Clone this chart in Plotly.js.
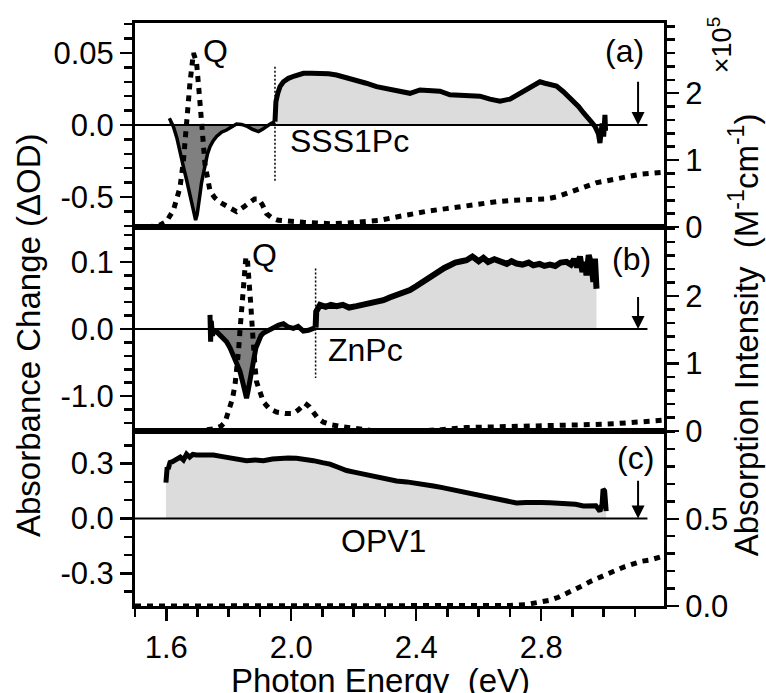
<!DOCTYPE html>
<html>
<head>
<meta charset="utf-8">
<script src="https://cdn.plot.ly/plotly-3.0.1.min.js"></script>
<style>html,body{margin:0;padding:0;background:#fff;}#chart{width:766px;height:693px;}</style>
</head>
<body>
<div id="chart"></div>
<script>
// ---------- Panel (a) SSS1Pc ----------
// Transient absorption change (left axis units; negative side labelled x10)
const aNegE = [1.610,1.623,1.634,1.644,1.655,1.665,1.674,1.681,1.688,1.694,1.699,1.703,1.708,1.713,1.719,1.724,1.732,1.740,1.750,1.761,1.777,1.793,1.809,1.825,1.841,1.857,1.876,1.895,1.908,1.921,1.935,1.948];
const aNegV = [0.0047,-0.0012,-0.009,-0.0197,-0.029,-0.038,-0.047,-0.054,-0.061,-0.066,-0.062,-0.057,-0.048,-0.040,-0.033,-0.027,-0.020,-0.015,-0.011,-0.008,-0.005,-0.0035,-0.0012,0.0007,0.0004,-0.0007,-0.003,-0.0046,-0.003,-0.001,0.001,0.0023];
const aPosE = [1.948,1.951,1.957,1.964,1.975,1.991,2.010,2.039,2.065,2.092,2.120,2.145,2.175,2.209,2.240,2.273,2.305,2.348,2.380,2.412,2.444,2.476,2.508,2.540,2.572,2.604,2.636,2.668,2.700,2.721,2.745,2.764,2.780,2.796,2.812,2.828,2.849,2.871,2.887,2.903,2.920,2.935,2.948,2.961,2.972,2.983,2.988,2.995,3.000,3.004,3.006];
const aPosV = [0.0023,0.0162,0.022,0.0266,0.030,0.0324,0.034,0.0359,0.036,0.0359,0.0355,0.0347,0.033,0.0313,0.029,0.0266,0.025,0.023,0.022,0.0243,0.024,0.0235,0.021,0.0208,0.021,0.020,0.018,0.0165,0.018,0.0208,0.024,0.0266,0.028,0.030,0.029,0.0285,0.027,0.0231,0.020,0.0162,0.0127,0.0085,0.0058,0.002,-0.001,-0.006,-0.0125,0.001,-0.008,0.007,-0.004];
// Absorption spectrum (right axis, x10^5 M^-1 cm^-1)
const aAbsE = [1.500,1.540,1.580,1.600,1.623,1.634,1.644,1.655,1.665,1.676,1.687,1.697,1.706,1.713,1.724,1.740,1.755,1.772,1.800,1.825,1.848,1.868,1.883,1.895,1.908,1.921,1.940,1.959,2.000,2.039,2.080,2.124,2.180,2.231,2.284,2.337,2.390,2.440,2.497,2.550,2.604,2.660,2.710,2.760,2.817,2.850,2.880,2.915,2.945,2.975,3.009,3.045,3.084,3.120,3.160,3.193];
const aAbsV = [0.00,0.00,0.03,0.08,0.25,0.40,0.59,0.99,1.57,2.16,2.60,2.46,1.97,1.47,0.94,0.54,0.44,0.37,0.29,0.23,0.30,0.37,0.42,0.42,0.33,0.20,0.13,0.10,0.08,0.07,0.06,0.05,0.06,0.08,0.10,0.15,0.20,0.24,0.275,0.31,0.35,0.38,0.40,0.41,0.42,0.45,0.50,0.56,0.62,0.66,0.69,0.73,0.76,0.79,0.81,0.82];

// ---------- Panel (b) ZnPc ----------
const bNegE = [1.740,1.742,1.744,1.748,1.752,1.761,1.770,1.780,1.793,1.804,1.815,1.825,1.836,1.845,1.852,1.857,1.862,1.868,1.874,1.879,1.887,1.895,1.903,1.911,1.925,1.943,1.960,1.975,1.990,2.007,2.022,2.039,2.055,2.071,2.078];
const bNegV = [0.021,-0.019,0.012,-0.010,-0.002,-0.004,-0.008,-0.013,-0.019,-0.028,-0.039,-0.050,-0.063,-0.080,-0.093,-0.103,-0.092,-0.078,-0.060,-0.044,-0.028,-0.019,-0.010,-0.006,-0.002,0.001,0.006,0.008,0.003,0.001,0.004,-0.003,-0.002,0.001,0.002];
const bPosE = [2.078,2.080,2.092,2.110,2.127,2.145,2.165,2.185,2.209,2.230,2.250,2.273,2.295,2.315,2.337,2.360,2.380,2.401,2.420,2.440,2.455,2.475,2.490,2.508,2.525,2.545,2.561,2.580,2.600,2.615,2.630,2.650,2.668,2.690,2.705,2.721,2.740,2.760,2.775,2.795,2.810,2.828,2.845,2.862,2.881,2.895,2.905,2.915,2.924,2.932,2.940,2.945,2.952,2.961,2.967,2.972,2.977];
const bPosV = [0.002,0.026,0.036,0.033,0.036,0.034,0.036,0.032,0.034,0.036,0.038,0.041,0.043,0.047,0.050,0.054,0.058,0.064,0.070,0.076,0.080,0.086,0.091,0.095,0.099,0.101,0.1025,0.108,0.101,0.106,0.100,0.104,0.100,0.097,0.101,0.0975,0.096,0.099,0.095,0.097,0.094,0.096,0.094,0.099,0.100,0.096,0.104,0.092,0.108,0.085,0.100,0.080,0.110,0.095,0.070,0.105,0.060];
const bAbsE = [1.500,1.550,1.600,1.650,1.700,1.751,1.775,1.788,1.804,1.812,1.820,1.826,1.831,1.836,1.841,1.845,1.849,1.855,1.860,1.865,1.870,1.875,1.879,1.884,1.889,1.900,1.911,1.930,1.953,1.980,2.007,2.025,2.044,2.058,2.071,2.085,2.103,2.130,2.167,2.210,2.252,2.300,2.350,2.412,2.480,2.561,2.640,2.721,2.800,2.881,2.960,3.041,3.110,3.150,3.193];
const bAbsV = [0.0,0.0,0.0,0.0,0.0,0.03,0.07,0.13,0.33,0.48,0.68,0.92,1.17,1.49,1.81,2.10,2.36,2.58,2.52,2.30,1.91,1.55,1.22,0.95,0.73,0.55,0.43,0.33,0.28,0.26,0.26,0.32,0.41,0.36,0.28,0.19,0.13,0.09,0.06,0.03,0.01,0.0,0.0,0.0,0.02,0.05,0.06,0.065,0.075,0.085,0.095,0.11,0.13,0.145,0.16];

// ---------- Panel (c) OPV1 ----------
const cE = [1.599,1.600,1.603,1.606,1.612,1.620,1.633,1.645,1.655,1.665,1.675,1.685,1.697,1.720,1.751,1.780,1.804,1.830,1.857,1.885,1.911,1.940,1.964,1.990,2.017,2.045,2.071,2.100,2.124,2.150,2.177,2.205,2.231,2.258,2.284,2.310,2.337,2.370,2.401,2.430,2.455,2.480,2.508,2.535,2.561,2.590,2.615,2.640,2.668,2.695,2.721,2.750,2.775,2.800,2.828,2.855,2.881,2.910,2.935,2.960,2.975,2.988,2.995,2.998,3.003,3.008];
const cV = [0.196,0.24,0.28,0.27,0.306,0.31,0.325,0.335,0.320,0.352,0.335,0.350,0.347,0.348,0.347,0.338,0.329,0.322,0.316,0.320,0.316,0.325,0.329,0.330,0.329,0.325,0.316,0.305,0.297,0.280,0.262,0.252,0.242,0.233,0.224,0.215,0.205,0.200,0.194,0.186,0.178,0.170,0.160,0.150,0.141,0.132,0.123,0.114,0.105,0.094,0.085,0.088,0.090,0.088,0.086,0.084,0.083,0.078,0.068,0.065,0.070,0.040,0.080,0.160,0.150,0.040];
const cAbsE = [1.500,1.600,1.700,1.800,1.900,2.000,2.100,2.200,2.300,2.400,2.500,2.600,2.700,2.750,2.775,2.800,2.828,2.855,2.881,2.908,2.935,2.960,2.988,3.015,3.041,3.068,3.095,3.120,3.148,3.170,3.193];
const cAbsV = [0.0,0.0,0.0,0.0,0.0,0.0,0.0,0.0,0.0,0.0,0.0,0.0,0.003,0.008,0.014,0.022,0.033,0.050,0.071,0.095,0.119,0.143,0.167,0.187,0.206,0.226,0.245,0.256,0.264,0.276,0.287];

// ---------- reference lines / markers (data units) ----------
const zeroLineE = [1.5, 3.14];
const zeroLineV = [0, 0];
const pumpE = 3.11;                     // arrow energy
const arrowTop = [0.031, 0.050, 0.215]; // arrow tail height per panel (left-axis units)
const dividerE = [1.948, 2.078];
const dividerA = [0.0405, -0.039];
const dividerB = [0.090, -0.073];

// ---------- tick labels ----------
const xTickVals = [1.6, 2.0, 2.4, 2.8];
const xTickText = ['1.6', '2.0', '2.4', '2.8'];
const yaTickVals = [-0.05, 0, 0.05], yaTickText = ['-0.5', '0.0', '0.05'];
const ybTickVals = [-0.1, 0, 0.1],  ybTickText = ['-1.0', '0.0', '0.1'];
const ycTickVals = [-0.3, 0, 0.3],  ycTickText = ['-0.3', '0.0', '0.3'];
const rabTickVals = [0, 1, 2], rabTickText = ['0', '1', '2'];
const rcTickVals = [0, 0.5], rcTickText = ['0.0', '0.5'];

const FONT = 'Liberation Sans, Arial, Helvetica, sans-serif';
const LIGHT = '#dcdcdc', DARK = '#808080';

function dotted(x, y, yaxis, xaxis) {
  return {x, y, xaxis, yaxis, type: 'scatter', mode: 'lines',
    line: {color: 'black', width: 5, dash: '6px,6px'}, hoverinfo: 'skip'};
}
function filled(x, y, yaxis, xaxis, fillcolor, width) {
  return {x, y, xaxis, yaxis, type: 'scatter', mode: 'lines', fill: 'tozeroy', fillcolor,
    line: {color: 'black', width: width}, hoverinfo: 'skip'};
}
function plain(x, y, yaxis, xaxis, width, dash) {
  return {x, y, xaxis, yaxis, type: 'scatter', mode: 'lines',
    line: {color: 'black', width: width, dash: dash || 'solid'}, hoverinfo: 'skip'};
}

const traces = [
  // panel a
  filled(aNegE, aNegV, 'y', 'x', DARK, 3.5),
  filled(aPosE, aPosV, 'y', 'x', LIGHT, 5),
  plain(zeroLineE, zeroLineV, 'y', 'x', 2),
  plain([dividerE[0], dividerE[0]], dividerA, 'y', 'x', 1.5, '2px,2px'),
  dotted(aAbsE, aAbsV, 'y2', 'x'),
  // panel b
  filled(bNegE, bNegV, 'y3', 'x2', DARK, 5),
  filled(bPosE, bPosV, 'y3', 'x2', LIGHT, 6),
  plain(zeroLineE, zeroLineV, 'y3', 'x2', 2),
  plain([dividerE[1], dividerE[1]], dividerB, 'y3', 'x2', 1.5, '2px,2px'),
  dotted(bAbsE, bAbsV, 'y4', 'x2'),
  // panel c
  filled(cE, cV, 'y5', 'x3', LIGHT, 5),
  plain(zeroLineE, zeroLineV, 'y5', 'x3', 2),
  dotted(cAbsE, cAbsV, 'y6', 'x3'),
];

const H = 583; // plot-area height in px
const dC = [0, 175 / H];
const dB = [175 / H, 379 / H];
const dA = [379 / H, 1];

const tickfont = {family: FONT, size: 31, color: 'black'};
function xFrame(anchor) {
  return {domain: [0, 1], anchor, range: [1.5, 3.193], showline: true, mirror: true,
    linewidth: 3, linecolor: 'black', ticks: '', showticklabels: false,
    showgrid: false, zeroline: false, fixedrange: true};
}
function yLeft(domain, anchor, range, tv, tt, minorStep) {
  return {domain, anchor, range, showline: true, linewidth: 3, linecolor: 'black',
    ticks: 'outside', ticklen: 12, tickwidth: 2.5, tickcolor: 'black',
    tickmode: 'array', tickvals: tv, ticktext: tt, tickfont,
    minor: {ticks: 'outside', ticklen: 8, tickwidth: 2.5, tickcolor: 'black', dtick: minorStep, tick0: 0, showgrid: false},
    showgrid: false, zeroline: false, fixedrange: true};
}
function yRight(overlay, anchor, range, tv, tt, minorStep) {
  return {overlaying: overlay, side: 'right', anchor, range, showline: true, linewidth: 3, linecolor: 'black',
    ticks: 'outside', ticklen: 12, tickwidth: 2.5, tickcolor: 'black',
    tickmode: 'array', tickvals: tv, ticktext: tt, tickfont,
    minor: {ticks: 'outside', ticklen: 8, tickwidth: 2.5, tickcolor: 'black', dtick: minorStep, tick0: 0, showgrid: false},
    showgrid: false, zeroline: false, fixedrange: true};
}

const xBottom = Object.assign(xFrame('y5'), {
  ticks: 'outside', ticklen: 12, tickwidth: 2.5, tickcolor: 'black', showticklabels: true,
  tickmode: 'array', tickvals: xTickVals, ticktext: xTickText, tickfont,
  minor: {ticks: 'outside', ticklen: 8, tickwidth: 2.5, tickcolor: 'black', dtick: 0.1, tick0: 1.5, showgrid: false}
});

function label(text, x, y, xref, yref, size) {
  return {text, x, y, xref, yref, showarrow: false, xanchor: 'center', yanchor: 'middle',
    font: {family: FONT, size: size || 32, color: 'black'}};
}
function arrow(x, yTop, xref, yref) {
  return {x, y: 0, ax: x, ay: yTop, xref, yref, axref: xref, ayref: yref, text: '',
    showarrow: true, arrowhead: 2, arrowsize: 1.3, arrowwidth: 2, arrowcolor: 'black', standoff: 0};
}

const annotations = [
  label('Q', 1.758, 0.0514, 'x', 'y'),
  label('(a)', 3.065, 0.0514, 'x', 'y'),
  label('SSS1Pc', 2.186, -0.0111, 'x', 'y'),
  label('Q', 1.914, 0.110, 'x2', 'y3'),
  label('(b)', 3.09, 0.104, 'x2', 'y3'),
  label('ZnPc', 2.239, -0.031, 'x2', 'y3'),
  label('(c)', 3.103, 0.330, 'x3', 'y5'),
  label('OPV1', 2.294, -0.121, 'x3', 'y5'),
  arrow(pumpE, arrowTop[0], 'x', 'y'),
  arrow(pumpE, arrowTop[1], 'x2', 'y3'),
  arrow(pumpE, arrowTop[2], 'x3', 'y5'),
  Object.assign(label('Absorbance Change (\u0394OD)', -0.2023, 0.4648, 'paper', 'paper', 33), {textangle: -90}),
  Object.assign(label('Absorption Intensity\u00a0 (M<sup>-1</sup>cm<sup>-1</sup>)', 1.1512, 0.466, 'paper', 'paper', 33), {textangle: -90}),
  Object.assign(label('\u00d710<sup>5</sup>', 1.1059, 0.962, 'paper', 'paper', 27), {textangle: -90}),
  label('Photon Energy\u00a0 (eV)', 0.465, -0.127, 'paper', 'paper', 33),
];

const layout = {
  width: 766, height: 693,
  margin: {l: 135, r: 102, t: 23, b: 87, pad: 0},
  paper_bgcolor: 'white', plot_bgcolor: 'white',
  showlegend: false, hovermode: false,
  font: {family: FONT, color: 'black'},
  xaxis: Object.assign(xFrame('y'), {matches: 'x3'}),
  xaxis2: Object.assign(xFrame('y3'), {matches: 'x3'}),
  xaxis3: xBottom,
  yaxis: yLeft(dA, 'x', [-0.0708, 0.0708], yaTickVals, yaTickText, 0.01),
  yaxis2: yRight('y', 'x', [0, 3.05], rabTickVals, rabTickText, 0.2),
  yaxis3: yLeft(dB, 'x2', [-0.152, 0.152], ybTickVals, ybTickText, 0.02),
  yaxis4: yRight('y3', 'x2', [0, 3.02], rabTickVals, rabTickText, 0.2),
  yaxis5: yLeft(dC, 'x3', [-0.478, 0.478], ycTickVals, ycTickText, 0.1),
  yaxis6: yRight('y5', 'x3', [0, 1.003], rcTickVals, rcTickText, 0.1),
  annotations
};

Plotly.newPlot('chart', traces, layout, {staticPlot: true, displayModeBar: false});
</script>
</body>
</html>
